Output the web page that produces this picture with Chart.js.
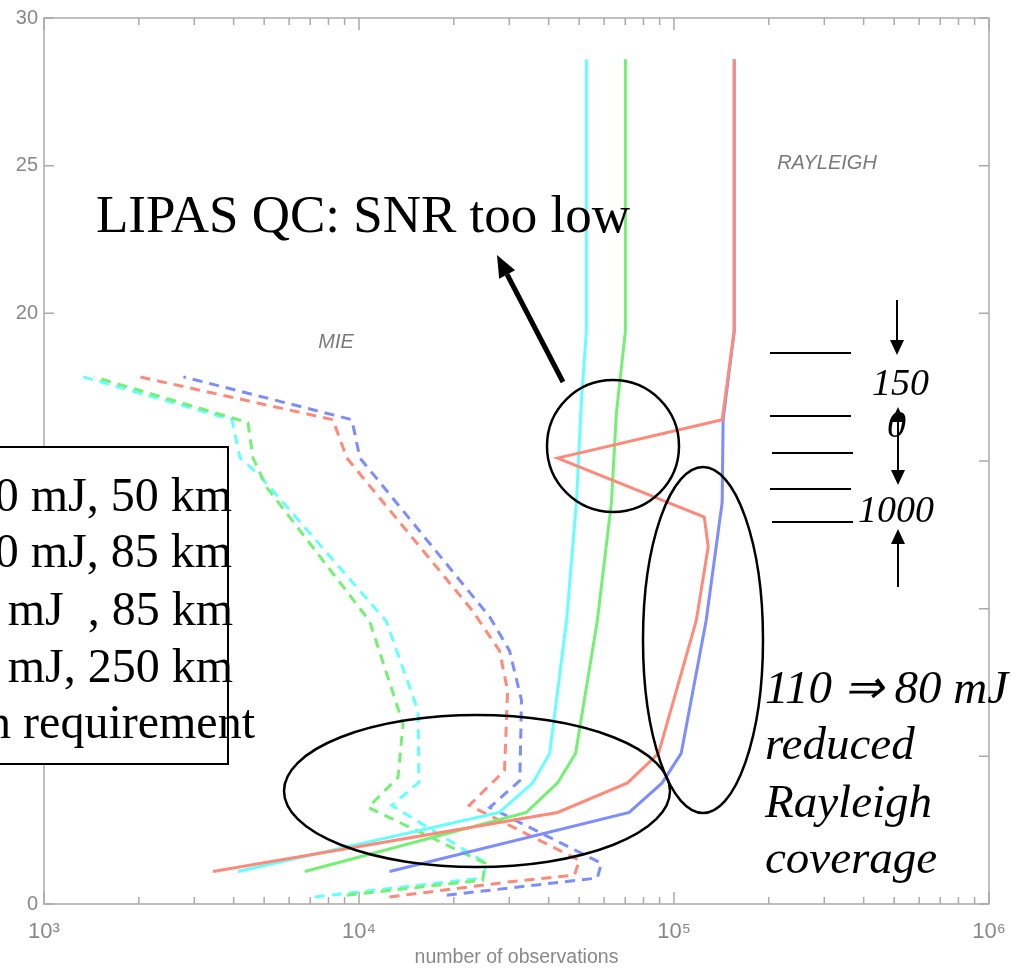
<!DOCTYPE html>
<html>
<head>
<meta charset="utf-8">
<script src="https://cdn.jsdelivr.net/npm/chart.js@4.4.1/dist/chart.umd.min.js"></script>
<style>
  html, body { margin: 0; padding: 0; background: #fff; }
  #wrap { width: 1029px; height: 969px; position: relative; overflow: hidden; }
</style>
</head>
<body>
<div id="wrap"><canvas id="obsChart" width="1029" height="969"></canvas></div>
<script>
// altitude (km) vs number of observations, Rayleigh (solid) and Mie (dashed)
const rayRedObs  = [3440, 42700, 71200, 89300, 117700, 128400, 124800, 42700, 142200, 155300, 155300];
const rayRedAlt  = [1.1, 3.1, 4.1, 5.1, 9.6, 12.1, 13.1, 15.1, 16.4, 19.4, 28.6];
const rayBlueObs = [12500, 72100, 91700, 105400, 126500, 142200, 143200, 155300, 155300];
const rayBlueAlt = [1.1, 3.1, 4.1, 5.1, 9.6, 13.6, 16.4, 19.4, 28.6];
const rayGreenObs = [6730, 34000, 42700, 48700, 57100, 63300, 65600, 70100, 70100];
const rayGreenAlt = [1.1, 3.1, 4.1, 5.1, 9.6, 13.6, 16.6, 19.4, 28.6];
const rayCyanObs = [4130, 27900, 35600, 40300, 45600, 49000, 50800, 52700, 52700];
const rayCyanAlt = [1.1, 3.1, 4.1, 5.1, 9.6, 13.6, 17.0, 19.4, 28.6];

const mieRedObs  = [12500, 29400, 48300, 50100, 22400, 28970, 29630, 27940, 22960, 9150, 8260, 2010];
const mieRedAlt  = [0.24, 0.74, 0.98, 1.48, 3.34, 4.52, 7.22, 8.57, 9.92, 15.1, 16.4, 17.85];
const mieBlueObs = [19000, 57100, 58800, 26000, 32400, 32800, 30060, 26000, 10070, 9490, 2770];
const mieBlueAlt = [0.3, 0.88, 1.38, 3.27, 4.18, 6.9, 8.57, 9.72, 15.1, 16.4, 17.85];
const mieGreenObs = [9150, 24700, 25100, 10700, 13300, 13800, 10800, 5100, 4610, 4440, 1440];
const mieGreenAlt = [0.3, 0.81, 1.38, 3.27, 4.29, 6.1, 9.58, 14.1, 15.1, 16.3, 17.85];
const mieCyanObs = [7240, 24700, 25400, 12700, 15500, 15400, 12200, 4850, 4190, 3950, 1330];
const mieCyanAlt = [0.24, 0.88, 1.38, 3.34, 4.12, 6.54, 9.58, 14.5, 15.1, 16.4, 17.85];

const xMajorTicks = [1e3, 1e4, 1e5, 1e6];
const xTickLabels = ['10\u00B3', '10\u2074', '10\u2075', '10\u2076'];
const yTicks = [0, 5, 10, 15, 20, 25, 30];

const RED = '#ff8a7a', BLUE = '#7d8cff', GREEN = '#74f074', CYAN = '#66ffff';
const AXIS_GREY = '#aaaaaa', LABEL_GREY = '#888888';
const SANS = '"Liberation Sans", Arial, sans-serif';
const SERIF = '"Liberation Serif", "Times New Roman", serif';

function pts(obs, alt) {
  return obs.map((v, i) => ({ x: v, y: alt[i] }));
}

// 1..9 x 10^n tick positions for the log axis
const xAllTicks = [];
for (let e = 3; e < 6; e++) {
  for (let k = 1; k < 10; k++) xAllTicks.push(k * Math.pow(10, e));
}
xAllTicks.push(1e6);

function isMajor(v) {
  const lg = Math.log10(v);
  return Math.abs(lg - Math.round(lg)) < 1e-9;
}

// box outline plus inward ticks on all four sides
const frameTicks = {
  id: 'frameTicks',
  beforeDatasetsDraw(chart) {
    const ctx = chart.ctx;
    const a = chart.chartArea;
    const xs = chart.scales.x, ys = chart.scales.y;
    ctx.save();
    ctx.strokeStyle = AXIS_GREY;
    ctx.lineWidth = 1.5;
    ctx.strokeRect(a.left, a.top, a.right - a.left, a.bottom - a.top);
    ctx.beginPath();
    xs.ticks.forEach(t => {
      const px = xs.getPixelForValue(t.value);
      const len = isMajor(t.value) ? 12 : 7;
      ctx.moveTo(px, a.bottom); ctx.lineTo(px, a.bottom - len);
      ctx.moveTo(px, a.top); ctx.lineTo(px, a.top + len);
    });
    ys.ticks.forEach(t => {
      const py = ys.getPixelForValue(t.value);
      ctx.moveTo(a.left, py); ctx.lineTo(a.left + 10, py);
      ctx.moveTo(a.right, py); ctx.lineTo(a.right - 10, py);
    });
    ctx.stroke();
    ctx.restore();
  }
};

function arrow(ctx, x1, y1, x2, y2, w, headLen, headHalf) {
  const ang = Math.atan2(y2 - y1, x2 - x1);
  const bx = x2 - headLen * Math.cos(ang), by = y2 - headLen * Math.sin(ang);
  ctx.lineWidth = w;
  ctx.beginPath(); ctx.moveTo(x1, y1); ctx.lineTo(bx, by); ctx.stroke();
  ctx.beginPath();
  ctx.moveTo(x2, y2);
  ctx.lineTo(bx + headHalf * Math.sin(ang), by - headHalf * Math.cos(ang));
  ctx.lineTo(bx - headHalf * Math.sin(ang), by + headHalf * Math.cos(ang));
  ctx.closePath();
  ctx.fill();
}

// slide notes drawn over the plot
const overlay = {
  id: 'overlay',
  afterDraw(chart) {
    const ctx = chart.ctx;
    ctx.save();

    ctx.fillStyle = '#7a7a7a';
    ctx.font = 'italic 20px ' + SANS;
    ctx.textAlign = 'center';
    ctx.textBaseline = 'middle';
    ctx.fillText('MIE', 336, 342);
    ctx.fillText('RAYLEIGH', 827, 163);

    ctx.strokeStyle = '#000';

    // legend box
    ctx.lineWidth = 2;
    ctx.fillStyle = '#fff';
    ctx.fillRect(-5, 447, 233, 317);
    ctx.strokeRect(-5, 447, 233, 317);
    ctx.fillStyle = '#000';
    ctx.font = '48px ' + SERIF;
    ctx.textAlign = 'right';
    ctx.textBaseline = 'alphabetic';
    ctx.fillText('0 mJ, 50 km', 232, 511);
    ctx.fillText('0 mJ, 85 km', 232, 567);
    ctx.fillText('mJ  , 85 km', 233, 625);
    ctx.fillText('mJ, 250 km', 233, 682);
    ctx.fillText('n requirement', 255, 738);

    // QC note with arrow and circle
    ctx.textAlign = 'left';
    ctx.font = '53px ' + SERIF;
    ctx.fillText('LIPAS QC: SNR too low', 96, 232);
    arrow(ctx, 563, 382, 497, 255, 5, 22, 9);
    ctx.lineWidth = 2.5;
    ctx.beginPath(); ctx.arc(613, 446, 66, 0, Math.PI * 2); ctx.stroke();

    // ellipses
    ctx.beginPath(); ctx.ellipse(703, 640, 60, 173, 0, 0, Math.PI * 2); ctx.stroke();
    ctx.beginPath(); ctx.ellipse(477, 791, 193, 76, 0, 0, Math.PI * 2); ctx.stroke();

    // layer marks
    ctx.lineWidth = 2;
    ctx.beginPath();
    [[770, 851, 353], [770, 851, 416], [772, 853, 453], [770, 851, 489], [772, 853, 522]].forEach(l => {
      ctx.moveTo(l[0], l[2]); ctx.lineTo(l[1], l[2]);
    });
    ctx.stroke();

    ctx.font = 'italic 38px ' + SERIF;
    ctx.fillText('150', 872, 395);
    ctx.fillText('0', 887, 437);
    ctx.fillText('1000', 858, 522);

    arrow(ctx, 897, 300, 897, 355, 2, 15, 7);
    arrow(ctx, 898, 446, 898, 407, 2, 15, 7);
    arrow(ctx, 898, 446, 898, 485, 2, 15, 7);
    arrow(ctx, 898, 587, 898, 529, 2, 15, 7);

    ctx.font = 'italic 47px ' + SERIF;
    ctx.fillText('110 \u21D2 80 mJ', 765, 703);
    ctx.fillText('reduced', 765, 759);
    ctx.fillText('Rayleigh', 765, 817);
    ctx.fillText('coverage', 765, 873);

    ctx.restore();
  }
};

function series(obs, alt, color, dashed) {
  return {
    data: pts(obs, alt),
    borderColor: color,
    borderWidth: 3,
    borderDash: dashed ? [10, 7] : [],
    pointRadius: 0,
    tension: 0,
    fill: false
  };
}

new Chart(document.getElementById('obsChart'), {
  type: 'line',
  data: {
    datasets: [
      series(rayRedObs, rayRedAlt, RED, false),
      series(rayCyanObs, rayCyanAlt, CYAN, false),
      series(rayGreenObs, rayGreenAlt, GREEN, false),
      series(rayBlueObs, rayBlueAlt, BLUE, false),
      series(mieRedObs, mieRedAlt, RED, true),
      series(mieBlueObs, mieBlueAlt, BLUE, true),
      series(mieGreenObs, mieGreenAlt, GREEN, true),
      series(mieCyanObs, mieCyanAlt, CYAN, true)
    ]
  },
  options: {
    responsive: false,
    animation: false,
    devicePixelRatio: 1,
    layout: { padding: { top: 15, right: 40, left: 0, bottom: 0 } },
    plugins: { legend: { display: false }, tooltip: { enabled: false } },
    scales: {
      x: {
        type: 'logarithmic',
        min: 1e3,
        max: 1e6,
        afterBuildTicks: scale => {
          scale.ticks = xAllTicks.map(v => ({ value: v, major: isMajor(v) }));
        },
        afterFit: scale => { scale.height = 65; },
        grid: { display: false, drawTicks: false },
        border: { display: false },
        ticks: {
          autoSkip: false,
          maxRotation: 0,
          padding: 15,
          color: LABEL_GREY,
          font: { family: SANS, size: 22 },
          callback: v => {
            const i = xMajorTicks.indexOf(v);
            return i >= 0 ? xTickLabels[i] : '';
          }
        },
        title: {
          display: true,
          text: 'number of observations',
          color: LABEL_GREY,
          padding: { top: 0, bottom: 0 },
          font: { family: SANS, size: 19.5 }
        }
      },
      y: {
        type: 'linear',
        min: 0,
        max: 30,
        afterBuildTicks: scale => {
          scale.ticks = yTicks.map(v => ({ value: v }));
        },
        afterFit: scale => { scale.width = 44; },
        grid: { display: false, drawTicks: false },
        border: { display: false },
        ticks: {
          padding: 6,
          color: LABEL_GREY,
          font: { family: SANS, size: 20 }
        }
      }
    }
  },
  plugins: [frameTicks, overlay]
});
</script>
</body>
</html>
